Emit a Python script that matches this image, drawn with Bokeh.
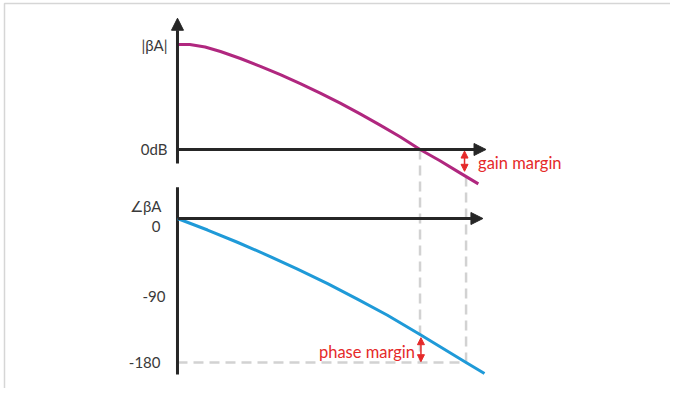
from bokeh.plotting import figure
from bokeh.models import Range1d, Arrow, NormalHead
from bokeh.core.properties import value
from bokeh.embed import file_html
from bokeh.resources import INLINE
import numpy as np

# ---- data ----
mag_w = [0, 0.04, 0.09, 0.14, 0.205, 0.27, 0.335, 0.4, 0.465, 0.53, 0.595, 0.66, 0.725, 0.79, 0.855, 0.92, 0.98]
mag_db = [40, 40, 39.05, 37.33, 34.67, 31.7, 28.5, 25.1, 21.49, 17.64, 13.56, 9.3, 4.88, 0, -4.27, -8.91, -13.1]
phase_w = [0, 0.098, 0.195, 0.293, 0.391, 0.489, 0.586, 0.684, 0.79, 0.94, 1.0]
phase_deg = [0, -14.4, -29.7, -46.0, -63.3, -81.5, -100.7, -120.9, -145, -180, -193.75]
w_gain_cross = 0.79
w_phase_cross = 0.94
mag_ticks = [40, 0]
mag_tick_labels = ["|βA|", "0dB"]
phase_ticks = [0, -90, -180]
phase_tick_labels = ["0", "-90", "-180"]
phase_title = "∠βA"

# ---- layout (screen mapping) ----
X_RANGE = (-0.5765, 1.6059)
MAG_RANGE = (-91.05, 56.76)
PH_RANGE = (-212.5, 272.5)

def db_to_ph(db):
    return PH_RANGE[0] + (db - MAG_RANGE[0]) / (MAG_RANGE[1] - MAG_RANGE[0]) * (PH_RANGE[1] - PH_RANGE[0])

AX = "#262626"
MAGENTA = "#b0277f"
BLUE = "#1f9ad8"
RED = "#e52a2a"
DASH = "#d2d2d2"
LBL = "#3a3a3a"
FONT = value("Lato")

p = figure(width=670, height=388, x_range=Range1d(*X_RANGE), y_range=Range1d(*MAG_RANGE),
           output_backend="svg", toolbar_location=None, min_border=0,
           x_axis_location=None, y_axis_location=None)
p.extra_y_ranges = {"phase": Range1d(*PH_RANGE)}
p.grid.visible = False
p.outline_line_color = None
p.background_fill_color = "white"

# page frame (left/top edges visible)
p.quad(left=[-0.5635], right=[3], top=[55.62], bottom=[-200], fill_color=None,
       line_color="#d6d6d6", line_width=1.5)

mag_p = float(np.interp(w_phase_cross, mag_w, mag_db))
ph_c = float(np.interp(w_gain_cross, phase_w, phase_deg))

# dashed guides (phase coordinates)
p.segment(x0=[w_gain_cross, w_phase_cross, 0], y0=[db_to_ph(0), db_to_ph(mag_p), -180],
          x1=[w_gain_cross, w_phase_cross, w_phase_cross], y1=[-180, -180, -180],
          y_range_name="phase", line_color=DASH, line_width=2.5, line_dash="10 6")

# axes
head = lambda: NormalHead(size=12, fill_color=AX, line_color=AX)
p.add_layout(Arrow(end=head(), x_start=0, y_start=-5.3, x_end=0, y_end=50,
                   line_color=AX, line_width=3))
p.add_layout(Arrow(end=head(), x_start=0, y_start=0, x_end=1.005, y_end=0,
                   line_color=AX, line_width=3))
p.segment(x0=[0], y0=[-195], x1=[0], y1=[39], y_range_name="phase", line_color=AX, line_width=3)
p.add_layout(Arrow(end=head(), x_start=0, y_start=0, x_end=0.995, y_end=0,
                   line_color=AX, line_width=3, y_range_name="phase"))

# curves
p.line(mag_w, mag_db, line_color=MAGENTA, line_width=3, line_join="round")
p.line(phase_w, phase_deg, line_color=BLUE, line_width=3, line_join="round", y_range_name="phase")

# margin arrows
small = lambda: NormalHead(size=7, fill_color=RED, line_color=RED)
p.add_layout(Arrow(start=small(), end=small(), x_start=w_phase_cross - 0.005, y_start=-0.6,
                   x_end=w_phase_cross - 0.005, y_end=mag_p + 2.0, line_color=RED, line_width=1.5))
p.add_layout(Arrow(start=small(), end=small(), x_start=w_gain_cross + 0.003, y_start=ph_c - 4,
                   x_end=w_gain_cross + 0.003, y_end=-179, line_color=RED, line_width=1.5,
                   y_range_name="phase"))

p.text(x=[w_phase_cross], y=[mag_p / 2], text=["gain margin"], x_offset=12, y_offset=0,
       text_font=FONT, text_font_size="16.5px", text_color=RED, text_align="left", text_baseline="middle")
p.text(x=[w_gain_cross], y=[(ph_c - 180) / 2], text=["phase margin"], x_offset=-5, y_offset=3,
       text_font=FONT, text_font_size="16.5px", text_color=RED, text_align="right", text_baseline="middle",
       y_range_name="phase")

# tick labels
p.text(x=[0, 0], y=mag_ticks, text=mag_tick_labels, x_offset=-10, y_offset=[1, 0],
       text_font=FONT, text_font_size="15px", text_color=LBL, text_align="right", text_baseline="middle")
p.text(x=[0, 0, 0], y=phase_ticks, text=phase_tick_labels, x_offset=[-17, -12, -17], y_offset=[8, 6, 0],
       text_font=FONT, text_font_size="15px", text_color=LBL, text_align="right", text_baseline="middle",
       y_range_name="phase")
p.text(x=[0], y=[0], text=[phase_title], x_offset=-16, y_offset=-13,
       text_font=FONT, text_font_size="15px", text_color=LBL, text_align="right", text_baseline="middle",
       y_range_name="phase")

open("out.html", "w").write(file_html(p, INLINE))
